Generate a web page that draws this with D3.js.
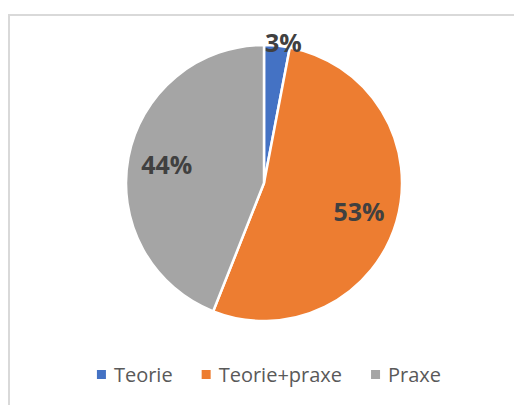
<!DOCTYPE html>
<html><head><meta charset="utf-8">
<script src="https://cdn.jsdelivr.net/npm/d3@7"></script>
<style>body{margin:0;background:#fff;}svg{display:block;}</style>
</head><body>
<script>
const categories = ["Teorie", "Teorie+praxe", "Praxe"];
const values = [3, 53, 44];
const labels = ["3%", "53%", "44%"];
const colors = ["#4472c4", "#ed7d31", "#a5a5a5"];

const W = 514, H = 405;
const svg = d3.select("body").append("svg").attr("width", W).attr("height", H);

// chart border
svg.append("rect").attr("x", 9).attr("y", 15).attr("width", 540).attr("height", 420)
  .attr("fill", "none").attr("stroke", "#d9d9d9").attr("stroke-width", 2);

const cx = 264, cy = 183, R = 138;
const pie = d3.pie().sort(null).value(d => d)(values);
const arc = d3.arc().innerRadius(0).outerRadius(R);
const g = svg.append("g").attr("transform", `translate(${cx},${cy})`);
g.selectAll("path").data(pie).join("path")
  .attr("d", arc).attr("fill", (d, i) => colors[i])
  .attr("stroke", "#fff").attr("stroke-width", 2.5).attr("stroke-linejoin", "round");

g.selectAll("text").data(pie).join("text")
  .attr("transform", (d, i) => {
    const frac = (d.endAngle - d.startAngle) / (2 * Math.PI);
    const r = frac < 0.1 ? 142 : 99;
    const a = (d.startAngle + d.endAngle) / 2;
    const dx = frac < 0.1 ? 6 : 0;
    return `translate(${r * Math.sin(a) + dx},${-r * Math.cos(a)})`;
  })
  .attr("text-anchor", "middle").attr("dominant-baseline", "central")
  .attr("font-family", "Open Sans, sans-serif").attr("font-weight", "bold")
  .attr("font-size", 25).attr("fill", "#404040")
  .text((d, i) => labels[i]);

// legend
const leg = svg.append("g");
const items = leg.selectAll("g").data(categories).join("g");
items.append("rect").attr("width", 9).attr("height", 9).attr("y", -12)
  .attr("fill", (d, i) => colors[i]);
items.append("text").attr("x", 17).attr("y", 0)
  .attr("font-family", "Open Sans, sans-serif").attr("font-size", 20).attr("fill", "#595959")
  .text(d => d);
let x = 0;
items.each(function () {
  const w = d3.select(this).select("text").node().getComputedTextLength();
  d3.select(this).attr("transform", `translate(${x},0)`);
  x += 17 + w + 29;
});
const total = x - 29;
leg.attr("transform", `translate(${269 - total / 2},382)`);
</script>
</body></html>
